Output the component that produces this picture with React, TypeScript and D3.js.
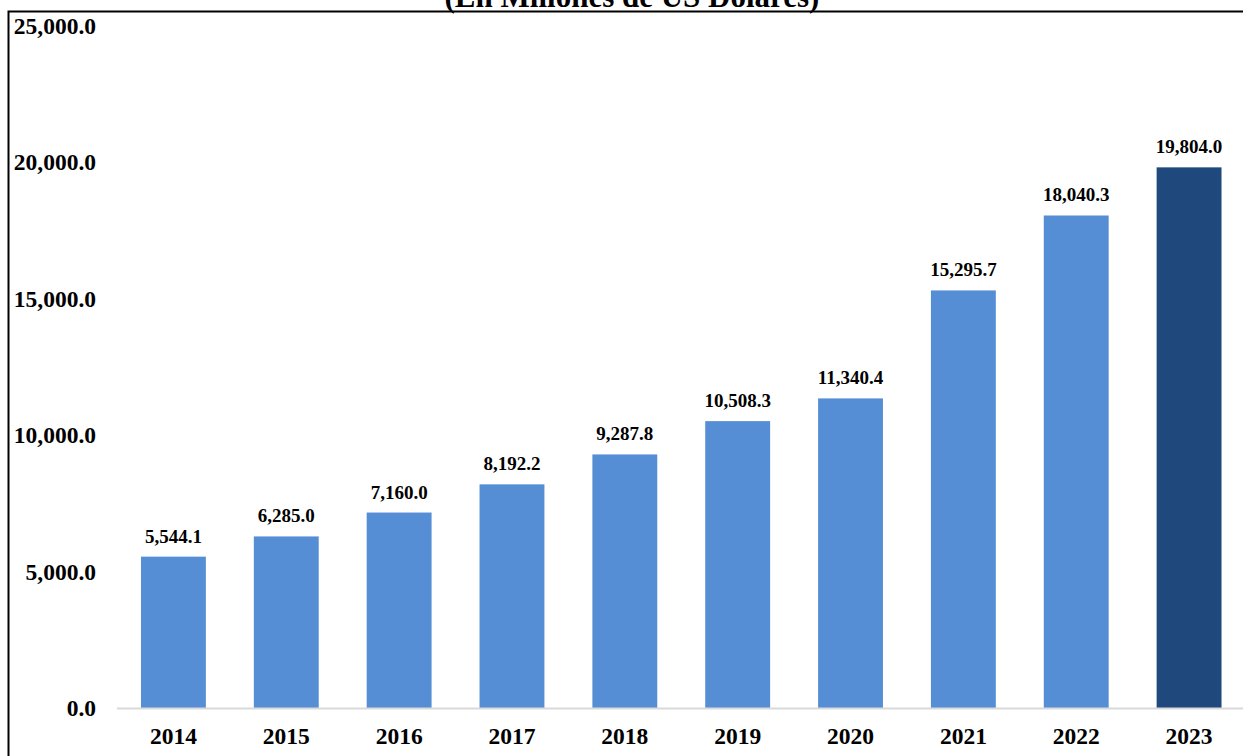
import React, { useRef, useEffect } from 'react';
import * as d3 from 'd3';

const years = ['2014', '2015', '2016', '2017', '2018', '2019', '2020', '2021', '2022', '2023'];
const values = [5544.1, 6285.0, 7160.0, 8192.2, 9287.8, 10508.3, 11340.4, 15295.7, 18040.3, 19804.0];
const yTicks = [0, 5000, 10000, 15000, 20000, 25000];
const title = '(En Millones de US Dólares)';

const WIDTH = 1243;
const HEIGHT = 756;

const fmt = d3.format(',.1f');

const App: React.FC = () => {
  const svgRef = useRef<SVGSVGElement>(null);

  useEffect(() => {
    if (!svgRef.current) return;
    const svg = d3.select(svgRef.current);
    svg.selectAll('*').remove();

    const x = d3.scaleBand<string>()
      .domain(years)
      .range([117, 1245.5])
      .paddingInner(0.425)
      .paddingOuter(0.2125);

    const y = d3.scaleLinear()
      .domain([0, 25000])
      .range([708, 25.5]);

    // outer frame (runs off the right and bottom edges)
    svg.append('rect')
      .attr('x', 8.5)
      .attr('y', 11.5)
      .attr('width', WIDTH + 20)
      .attr('height', HEIGHT + 20)
      .attr('fill', 'none')
      .attr('stroke', '#000')
      .attr('stroke-width', 2);

    // title, cut at the top like the source
    svg.append('text')
      .attr('x', 632)
      .attr('y', 7)
      .attr('text-anchor', 'middle')
      .attr('font-family', '"Liberation Serif", "Times New Roman", serif')
      .attr('font-weight', 'bold')
      .attr('font-size', 31)
      .text(title);

    const g = svg.append('g')
      .attr('font-family', '"Liberation Serif", "Times New Roman", serif')
      .attr('font-weight', 'bold');

    // y tick labels
    g.selectAll('text.ytick')
      .data(yTicks)
      .join('text')
      .attr('class', 'ytick')
      .attr('x', 96)
      .attr('y', d => y(d))
      .attr('dy', '0.35em')
      .attr('text-anchor', 'end')
      .attr('font-size', 23.5)
      .text(d => fmt(d));

    // bars
    g.selectAll('rect.bar')
      .data(values)
      .join('rect')
      .attr('class', 'bar')
      .attr('x', (_, i) => x(years[i])!)
      .attr('y', d => y(d))
      .attr('width', x.bandwidth())
      .attr('height', d => y(0) - y(d))
      .attr('fill', (_, i) => (i === values.length - 1 ? '#1f497d' : '#558ed5'));

    // x axis line
    g.append('line')
      .attr('x1', 117)
      .attr('x2', WIDTH)
      .attr('y1', y(0) + 0.5)
      .attr('y2', y(0) + 0.5)
      .attr('stroke', '#d9d9d9')
      .attr('stroke-width', 2);

    // value labels
    g.selectAll('text.value')
      .data(values)
      .join('text')
      .attr('class', 'value')
      .attr('x', (_, i) => x(years[i])! + x.bandwidth() / 2)
      .attr('y', d => y(d) - 14)
      .attr('text-anchor', 'middle')
      .attr('font-size', 19)
      .text(d => fmt(d));

    // year labels
    g.selectAll('text.year')
      .data(years)
      .join('text')
      .attr('class', 'year')
      .attr('x', d => x(d)! + x.bandwidth() / 2)
      .attr('y', 744)
      .attr('text-anchor', 'middle')
      .attr('font-size', 23.5)
      .text(d => d);
  }, []);

  return (
    <svg
      ref={svgRef}
      width={WIDTH}
      height={HEIGHT}
      style={{ position: 'absolute', left: 0, top: 0, background: '#fff' }}
    />
  );
};

export default App;
